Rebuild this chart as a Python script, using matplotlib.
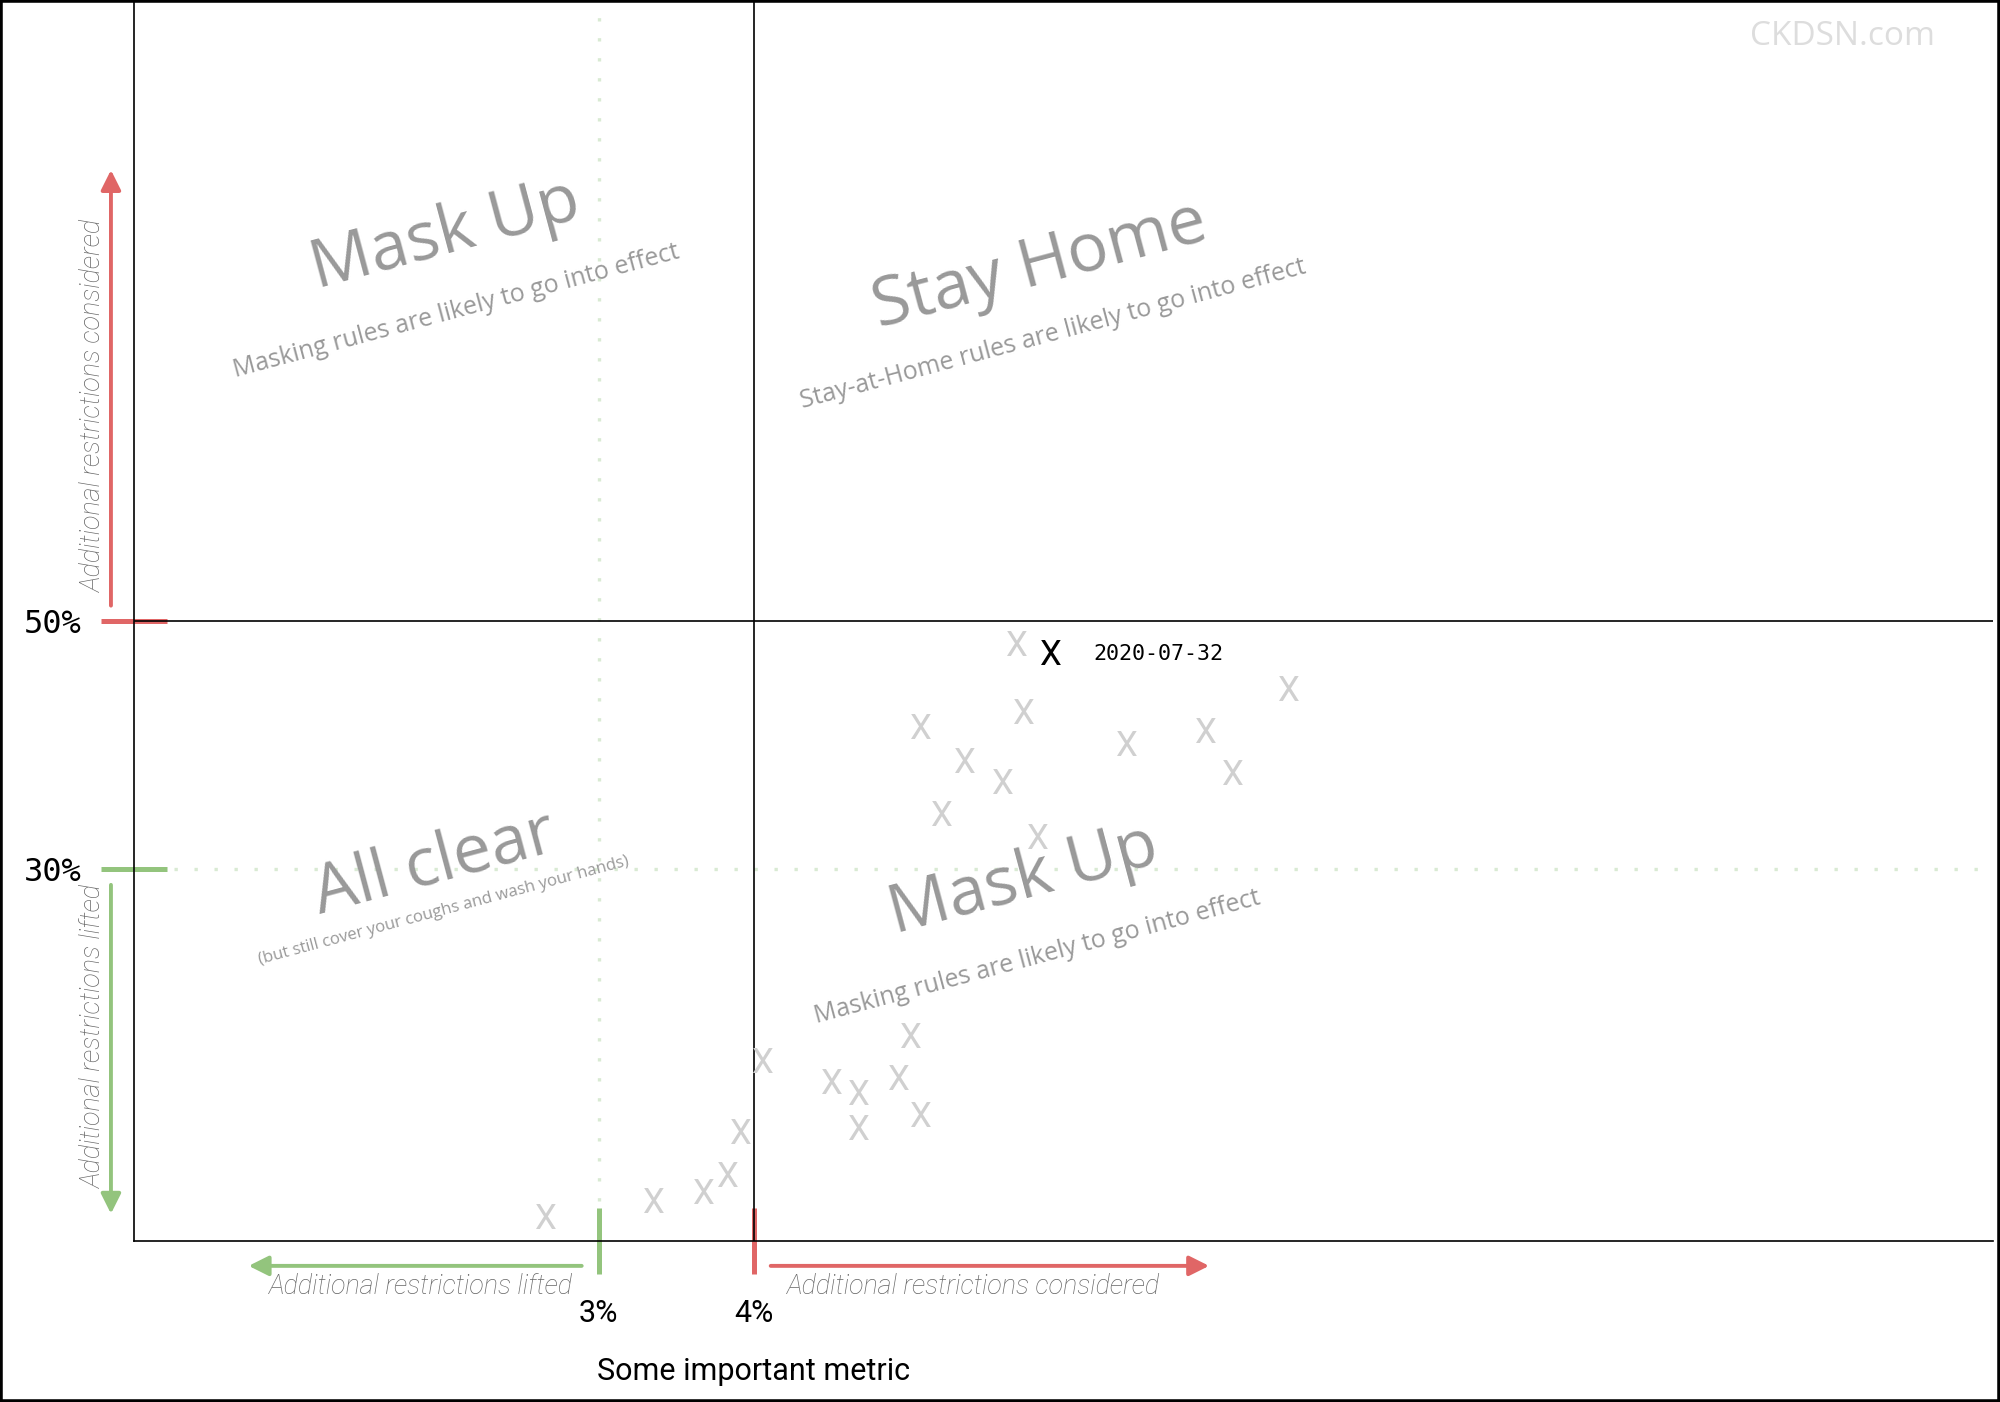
import matplotlib
matplotlib.use("Agg")
import matplotlib.pyplot as plt
import matplotlib.transforms as mtransforms
from matplotlib.patches import Rectangle

# historic readings (metric %, share %)
metric = [2.65, 3.35, 3.67, 3.83, 3.91, 4.05, 4.50, 4.67, 4.67, 4.93, 5.01, 5.07,
          5.07, 5.21, 5.36, 5.60, 5.69, 5.74, 5.83, 6.40, 6.91, 7.09, 7.45]
share = [2.0, 3.3, 4.0, 5.4, 8.9, 14.6, 12.9, 12.05, 9.2, 13.2, 16.6, 10.2,
         41.5, 34.5, 38.8, 37.1, 48.2, 42.7, 32.6, 40.1, 41.2, 37.8, 44.6]

latest_metric = 5.91
latest_share = 47.5
latest_label = "2020-07-32"

x_thresholds = [3, 4]
x_tick_labels = ["3%", "4%"]
y_thresholds = [30, 50]
y_tick_labels = ["30%", "50%"]

RED = "#e06666"
GREEN = "#93c47d"
LIGHT_GREEN = "#d9ead3"
GREY = "#999999"

fig = plt.figure(figsize=(10, 7.01), dpi=200)
ax = fig.add_axes([0.067, 0.1148, 0.9295, 0.8852])
ax.set_xlim(0, 12)
ax.set_ylim(0, 100)
ax.spines["top"].set_visible(False)
ax.spines["right"].set_visible(False)
for s in ["left", "bottom"]:
    ax.spines[s].set_linewidth(0.6)

# threshold lines
ax.axvline(x_thresholds[1], color="black", lw=0.6, zorder=3)
ax.axhline(y_thresholds[1], color="black", lw=0.6, zorder=3)
ax.axvline(x_thresholds[0], color=LIGHT_GREEN, lw=1.2, ls=(0, (1, 5)), zorder=1)
ax.axhline(y_thresholds[0], color=LIGHT_GREEN, lw=1.2, ls=(0, (1, 5)), zorder=1)

# ticks
ax.set_xticks(x_thresholds)
ax.set_xticklabels(x_tick_labels, fontfamily="Roboto", fontsize=11)
ax.set_yticks(y_thresholds)
ax.set_yticklabels(y_tick_labels, fontfamily="DejaVu Sans Mono", fontsize=11.5)
ax.tick_params(axis="x", direction="inout", length=24, width=1.8, pad=9)
ax.tick_params(axis="y", direction="inout", length=24, width=1.8, pad=7)
for t, c in zip(ax.xaxis.get_major_ticks(), [GREEN, RED]):
    t.tick1line.set_markeredgecolor(c)
for t, c in zip(ax.yaxis.get_major_ticks(), [GREEN, RED]):
    t.tick1line.set_markeredgecolor(c)

# points
for mx, sy in zip(metric, share):
    ax.text(mx, sy, "X", fontfamily="Roboto", fontsize=12.5, color="#d0d0d0",
            ha="center", va="center_baseline", zorder=4)
ax.text(latest_metric, latest_share, "X", fontfamily="Roboto", fontsize=12.5,
        color="black", ha="center", va="center_baseline", zorder=5)
ax.text(latest_metric + 0.28, latest_share, latest_label, fontfamily="DejaVu Sans Mono",
        fontsize=7.8, color="black", ha="left", va="center_baseline", zorder=5)

# quadrant labels
big = dict(fontfamily="Open Sans", fontsize=24.5, color=GREY, rotation=15,
           ha="center", va="center", rotation_mode="anchor")
small = dict(fontfamily="Open Sans", fontsize=9, color=GREY, rotation=15,
             ha="center", va="center", rotation_mode="anchor")
ax.text(2.01, 81.0, "Mask Up", **big)
ax.text(2.08, 74.9, "Masking rules are likely to go into effect", **small)
ax.text(5.85, 78.6, "Stay Home", **big)
ax.text(5.93, 73.1, "Stay-at-Home rules are likely to go into effect", **small)
ax.text(1.94, 30.3, "All clear", **big)
ax.text(2.0, 26.6, "(but still cover your coughs and wash your hands)",
        **dict(small, fontsize=6))
ax.text(5.74, 29.0, "Mask Up", **big)
ax.text(5.83, 22.9, "Masking rules are likely to go into effect", **small)

# direction arrows outside the axes
tx = mtransforms.blended_transform_factory(ax.transData, ax.transAxes)
ty = mtransforms.blended_transform_factory(ax.transAxes, ax.transData)
arr = dict(arrowstyle="-|>", lw=1.4, mutation_scale=15, shrinkA=0, shrinkB=0)
lab = dict(fontfamily="Roboto", fontweight="light", style="italic", fontsize=9.7,
           color="#666666", ha="center", va="center")

ax.annotate("", xy=(0.74, -0.020), xytext=(2.89, -0.020), xycoords=tx, textcoords=tx,
            arrowprops=dict(arr, color=GREEN), annotation_clip=False)
ax.text(1.85, -0.037, "Additional restrictions lifted", transform=tx, **lab)
ax.annotate("", xy=(6.94, -0.020), xytext=(4.11, -0.020), xycoords=tx, textcoords=tx,
            arrowprops=dict(arr, color=RED), annotation_clip=False)
ax.text(5.42, -0.037, "Additional restrictions considered", transform=tx, **lab)

ax.annotate("", xy=(-0.0124, 86.3), xytext=(-0.0124, 51.2), xycoords=ty, textcoords=ty,
            arrowprops=dict(arr, color=RED), annotation_clip=False)
ax.text(-0.022, 67.3, "Additional restrictions considered", transform=ty,
        rotation=90, **lab)
ax.annotate("", xy=(-0.0124, 2.2), xytext=(-0.0124, 28.7), xycoords=ty, textcoords=ty,
            arrowprops=dict(arr, color=GREEN), annotation_clip=False)
ax.text(-0.022, 16.5, "Additional restrictions lifted", transform=ty,
        rotation=90, **lab)

ax.text(4, -0.105, "Some important metric", transform=tx, fontfamily="Roboto",
        fontsize=11, color="black", ha="center", va="center")

fig.text(0.921, 0.974, "CKDSN.com", fontfamily="Open Sans", fontsize=12,
         color="#dddddd", ha="center", va="center")
fig.patches.append(Rectangle((0, 0), 1, 1, transform=fig.transFigure, fill=False,
                             lw=2, ec="black"))

fig.savefig("out.png", dpi=200, facecolor="white")
